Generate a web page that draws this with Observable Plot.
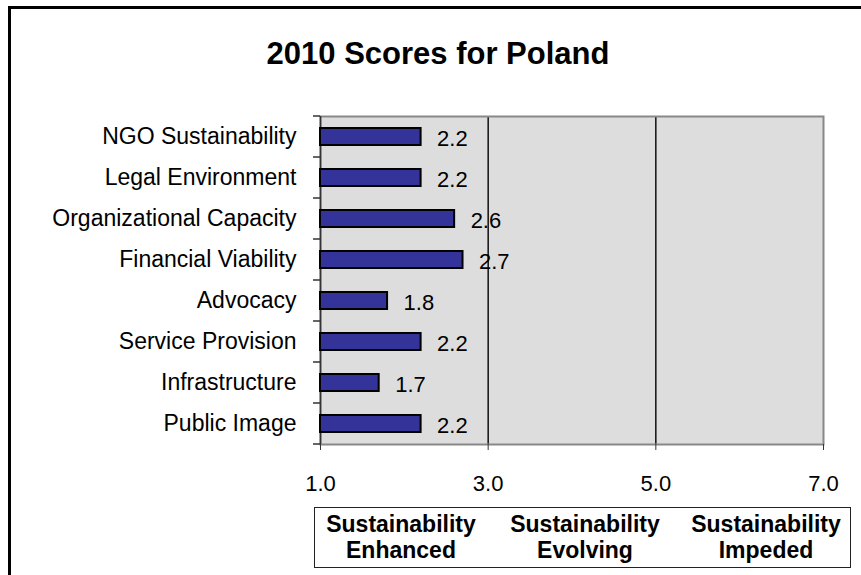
<!DOCTYPE html>
<html>
<head>
<meta charset="utf-8">
<script src="https://cdn.jsdelivr.net/npm/d3@7"></script>
<script src="https://cdn.jsdelivr.net/npm/@observablehq/plot@0.6"></script>
<style>
  html, body { margin: 0; padding: 0; background: #fff; }
  body { width: 861px; height: 575px; overflow: hidden; position: relative; font-family: Arial, "Liberation Sans", sans-serif; }
  #border { position: absolute; left: 8px; top: 6px; width: 900px; height: 620px; border: 3px solid #000; box-sizing: border-box; }
  #title { position: absolute; left: 138px; width: 600px; top: 38px; text-align: center; font-weight: bold; font-size: 31px; line-height: 31px; color: #000; }
  #chart { position: absolute; left: 0; top: 0; }
  #legendbox { position: absolute; left: 314px; top: 507px; width: 537px; height: 61px; border: 1.5px solid #222; box-sizing: border-box; }
  .zone { position: absolute; width: 190px; top: 512px; text-align: center; font-weight: bold; font-size: 23px; line-height: 25.5px; color: #000; }
</style>
</head>
<body>
<div id="border"></div>
<div id="title">2010 Scores for Poland</div>
<div id="chart"></div>
<div id="legendbox"></div>
<div id="zones"></div>
<script>
const categories = ["NGO Sustainability", "Legal Environment", "Organizational Capacity", "Financial Viability", "Advocacy", "Service Provision", "Infrastructure", "Public Image"];
const scores = [2.2, 2.2, 2.6, 2.7, 1.8, 2.2, 1.7, 2.2];
const xDomain = [1, 7];
const xTicks = [1, 3, 5, 7];
const gridValues = [3, 5];
const zoneLines = [["Sustainability", "Enhanced"], ["Sustainability", "Evolving"], ["Sustainability", "Impeded"]];
const zoneCenters = [401, 585, 766];

const data = categories.map((name, i) => ({name, value: scores[i]}));

const chart = Plot.plot({
  width: 861,
  height: 500,
  marginLeft: 320,
  marginRight: 38,
  marginTop: 116,
  marginBottom: 56,
  style: {background: "transparent", fontFamily: "Arial, 'Liberation Sans', sans-serif", color: "#000", overflow: "visible"},
  x: {domain: xDomain, label: null},
  y: {domain: categories, paddingInner: 0.58, paddingOuter: 0.29, label: null},
  marks: [
    Plot.frame({fill: "#dddddd", stroke: "none"}),
    Plot.ruleX(gridValues, {stroke: "#000", strokeWidth: 1.4}),
    Plot.frame({stroke: "#888", strokeWidth: 2}),
    Plot.ruleX([xDomain[0]], {stroke: "#333", strokeWidth: 1.5}),
    Plot.barX(data, {x1: xDomain[0], x2: "value", y: "name", fill: "#333399", stroke: "#000", strokeWidth: 2}),
    Plot.text(data, {x: "value", y: "name", text: d => d.value.toFixed(1), textAnchor: "start", dx: 16, dy: 1.5, fontSize: 22, fill: "#000"}),
    Plot.axisX({ticks: xTicks, tickFormat: d3.format(".1f"), tickSize: 6, tickPadding: 25, fontSize: 22, stroke: "#333", fill: "#000", label: null}),
    Plot.axisY({tickSize: 0, tickPadding: 24, fontSize: 23, fill: "#000", label: null}),
    Plot.tickY(categories, {
      y: d => d,
      render(index, scales, values, dimensions) {
        const y = scales.y;
        const bw = typeof y.bandwidth === "function" ? y.bandwidth() : y.bandwidth;
        const st = typeof y.step === "function" ? y.step() : y.step;
        const half = (st - bw) / 2;
        const x0 = scales.x(xDomain[0]);
        const g = d3.create("svg:g").attr("stroke", "#333").attr("stroke-width", 1.5);
        const ys = categories.map(c => y(c) - half);
        ys.push(y(categories[categories.length - 1]) + bw + half);
        for (const yy of ys) g.append("line").attr("x1", x0 - 7).attr("x2", x0).attr("y1", yy).attr("y2", yy);
        return g.node();
      }
    })
  ]
});
document.getElementById("chart").appendChild(chart);

const zones = document.getElementById("zones");
zoneLines.forEach((lines, i) => {
  const div = document.createElement("div");
  div.className = "zone";
  div.style.left = (zoneCenters[i] - 95) + "px";
  div.innerHTML = lines.join("<br>");
  zones.appendChild(div);
});
</script>
</body>
</html>
